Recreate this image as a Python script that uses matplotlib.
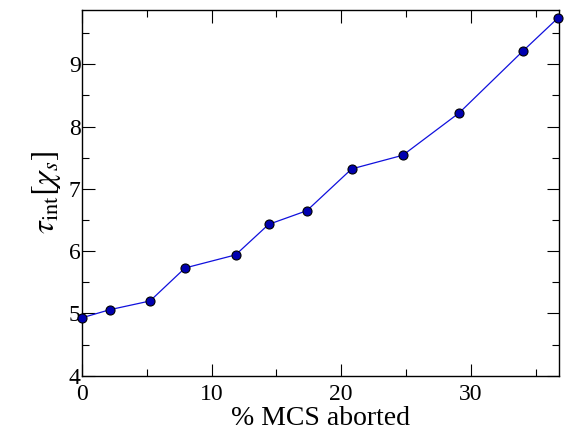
import matplotlib
matplotlib.use('Agg')
import matplotlib.pyplot as plt

plt.rcParams['font.family'] = ['Liberation Serif', 'DejaVu Serif']
plt.rcParams['mathtext.fontset'] = 'stix'

# % of MCS aborted vs integrated autocorrelation time
aborted = [0.0, 2.15, 5.25, 7.95, 11.85, 14.4, 17.35, 20.8, 24.75, 29.1, 34.05, 36.7]
tau_int = [4.93, 5.06, 5.20, 5.73, 5.94, 6.43, 6.65, 7.32, 7.54, 8.22, 9.22, 9.74]

fig = plt.figure(figsize=(5.71, 4.32), dpi=100)
ax = fig.add_axes([0.1436, 0.1303, 0.979 - 0.1436, 0.978 - 0.1303])

ax.plot(aborted, tau_int, '-', color='#1010dd', lw=0.9,
        marker='o', ms=6.5, mfc='#0000b0', mec='black', mew=0.8,
        clip_on=False, zorder=3)

ax.set_xlim(0, 36.8)
ax.set_ylim(4, 9.88)
ax.set_xticks([0, 10, 20, 30])
ax.set_xticks([5, 15, 25, 35], minor=True)
ax.set_yticks([4, 5, 6, 7, 8, 9])
ax.set_yticks([4.5, 5.5, 6.5, 7.5, 8.5, 9.5], minor=True)
ax.tick_params(which='both', direction='in', top=True, right=True,
               labelsize=17)
ax.tick_params(axis='x', pad=6)
ax.tick_params(axis='y', pad=1)
ax.tick_params(which='major', length=9, width=0.8)
ax.tick_params(which='minor', length=5, width=0.8)
for s in ax.spines.values():
    s.set_linewidth(1.0)
# lift the bottom "4" a little so it does not run into the x "0"
ax.get_yticklabels()[0].set_verticalalignment('center_baseline')

ax.set_xlabel('% MCS aborted', fontsize=20, labelpad=1)
ax.set_ylabel(r'$\tau_{\rm int}\left[\chi_s\right]$', fontsize=23, labelpad=4)

fig.savefig('out.png', dpi=100)
